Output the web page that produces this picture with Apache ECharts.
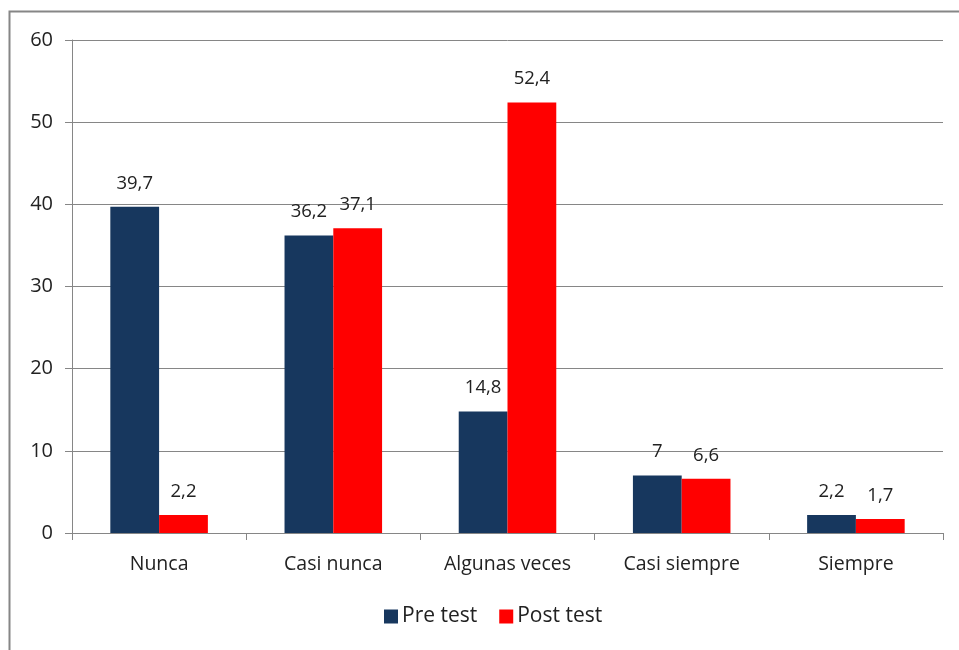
<!DOCTYPE html>
<html><head><meta charset="utf-8">
<script src="https://cdn.jsdelivr.net/npm/echarts@6/dist/echarts.min.js"></script>
<style>html,body{margin:0;padding:0;background:#fff}#c{width:959px;height:650px}</style>
</head><body><div id="c"></div>
<script>
const categories = ["Nunca", "Casi nunca", "Algunas veces", "Casi siempre", "Siempre"];
const preTest = [39.7, 36.2, 14.8, 7, 2.2];
const postTest = [2.2, 37.1, 52.4, 6.6, 1.7];
const seriesNames = ["Pre test", "Post test"];
const fmt = p => String(p.value).replace('.', ',');
const font = "'Open Sans', 'Liberation Sans', sans-serif";
const chart = echarts.init(document.getElementById('c'), null, {renderer: 'canvas'});
chart.setOption({
  animation: false,
  textStyle: {fontFamily: font},
  graphic: [{type: 'rect', shape: {x: 9.5, y: 11.5, width: 980, height: 700}, style: {fill: 'none', stroke: '#868686', lineWidth: 2}}],
  grid: {left: 72, right: 16, top: 40, bottom: 117, containLabel: false},
  legend: {bottom: 18, left: 379, itemWidth: 14, itemHeight: 14, itemGap: 22, icon: 'rect',
    textStyle: {fontSize: 21, color: '#222', fontFamily: font, padding: [0, 0, 0, -1]}, data: seriesNames},
  xAxis: {type: 'category', data: categories,
    axisLine: {lineStyle: {color: '#868686', width: 1}},
    axisTick: {show: true, length: 7, lineStyle: {color: '#868686'}},
    axisLabel: {fontSize: 19.5, color: '#222', margin: 21, fontFamily: font}},
  yAxis: {type: 'value', min: 0, max: 60, interval: 10,
    axisLine: {show: true, lineStyle: {color: '#868686'}},
    axisTick: {show: true, length: 7, inside: false, lineStyle: {color: '#868686'}},
    axisLabel: {fontSize: 20, color: '#222', margin: 19, fontFamily: font},
    splitLine: {lineStyle: {color: '#868686', width: 1}}},
  series: [
    {name: seriesNames[0], type: 'bar', data: preTest, barGap: '0%', barCategoryGap: '44%',
     itemStyle: {color: '#17375E'},
     label: {show: true, position: 'top', distance: 14, fontSize: 18.5, color: '#222', formatter: fmt, fontFamily: font}},
    {name: seriesNames[1], type: 'bar', data: postTest, barGap: '0%', barCategoryGap: '44%',
     itemStyle: {color: '#FF0000'},
     label: {show: true, position: 'top', distance: 14, fontSize: 18.5, color: '#222', formatter: fmt, fontFamily: font}}
  ]
});
</script></body></html>
